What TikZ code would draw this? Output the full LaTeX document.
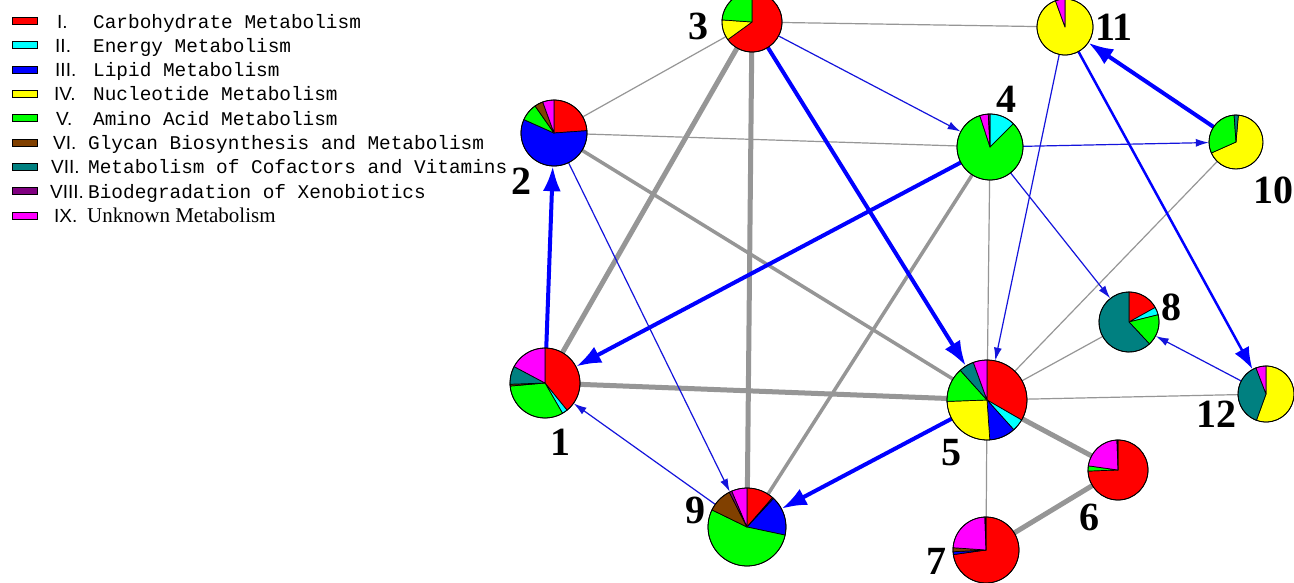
\documentclass[tikz,border=0pt]{standalone}
\usepackage{fontspec}
\setmainfont{Liberation Serif}
\newfontfamily\legmono{Liberation Mono}
\newfontfamily\legsans{Liberation Sans}
\usetikzlibrary{arrows.meta}
\definecolor{cI}{RGB}{255,0,0}
\definecolor{cII}{RGB}{0,255,255}
\definecolor{cIII}{RGB}{0,0,255}
\definecolor{cIV}{RGB}{255,255,0}
\definecolor{cV}{RGB}{0,255,0}
\definecolor{cVI}{RGB}{128,64,0}
\definecolor{cVII}{RGB}{0,128,128}
\definecolor{cVIII}{RGB}{128,0,128}
\definecolor{cIX}{RGB}{255,0,255}
\definecolor{edgegray}{RGB}{150,150,150}
\definecolor{edgeblue}{RGB}{0,0,255}
\definecolor{thinblue}{RGB}{20,20,220}
\newcommand\drawpie[3]{%
  \foreach \sa/\ea/\col in {#3}{%
    \filldraw[fill=\col, draw=black, line width=0.7pt, line join=round]
      (#1.center) -- ++({90-\sa}:#2) arc[start angle={90-\sa}, end angle={90-\ea}, radius=#2] -- cycle;
  }%
  \draw[line width=0.8pt] (#1.center) circle[radius=#2];
}
\tikzset{
  pienode/.style={circle, inner sep=0pt, draw=none},
  lab/.style={font=\fontsize{40}{40}\selectfont\bfseries, anchor=base, inner sep=0pt},
  gthick/.style={draw=edgegray, line width=5pt},
  gmid/.style={draw=edgegray, line width=3.5pt},
  gthin/.style={draw=edgegray, line width=1.2pt},
  bthick/.style={draw=edgeblue, line width=4pt, -{Latex[length=25pt,width=18pt]}},
  bmid/.style={draw=edgeblue, line width=2.5pt, -{Latex[length=22pt,width=16pt]}},
  bthin/.style={draw=thinblue, line width=1.2pt, -{Latex[length=13pt,width=8pt]}},
  swatch/.style={draw=black, line width=0.8pt, minimum width=25pt, minimum height=7pt, inner sep=0pt},
  legnum/.style={font=\legsans\fontsize{19}{19}\selectfont, anchor=base west, inner sep=0pt},
  legtxt/.style={font=\legmono\fontsize{19.4}{20}\selectfont, anchor=base west, inner sep=0pt},
  legser/.style={font=\fontsize{21}{21}\selectfont, anchor=base west, inner sep=0pt},
}
\begin{document}
\begin{tikzpicture}[x=1pt,y=-1pt]
\useasboundingbox[fill=white] (0,0) rectangle (1294,582);
% legend
\foreach \i/\col/\num/\nx/\tx/\txt in {
  1/cI/I./57/93/Carbohydrate Metabolism,
  2/cII/II./55/93/Energy Metabolism,
  3/cIII/III./55/93/Lipid Metabolism,
  4/cIV/IV./54/93/Nucleotide Metabolism,
  5/cV/V./56/93/Amino Acid Metabolism,
  6/cVI/VI./53/88/Glycan Biosynthesis and Metabolism,
  7/cVII/VII./51/88/Metabolism of Cofactors and Vitamins,
  8/cVIII/VIII./50/88/Biodegradation of Xenobiotics}{
  \pgfmathsetmacro\yc{21+24.3*(\i-1)}
  \node[swatch, fill=\col] (sw\i) at (24.5,\yc) {};
  \node[legnum] (ln\i) at (\nx,\yc+7) {\num};
  \node[legtxt] (lt\i) at (\tx,\yc+7) {\txt};
}
\node[swatch, fill=cIX] (sw9) at (24.5,215.4) {};
\node[legnum] (ln9) at (54,222.4) {IX.};
\node[legser] (lt9) at (87,222.4) {Unknown Metabolism};
% pie nodes
\node[pienode, minimum size=70pt] (n1) at (545,383) {};
\node[pienode, minimum size=66pt] (n2) at (554,133) {};
\node[pienode, minimum size=60pt] (n3) at (752,22) {};
\node[pienode, minimum size=66pt] (n4) at (990,147) {};
\node[pienode, minimum size=80pt] (n5) at (987,400) {};
\node[pienode, minimum size=60pt] (n6) at (1118,470) {};
\node[pienode, minimum size=66pt] (n7) at (986,550) {};
\node[pienode, minimum size=60pt] (n8) at (1129,322) {};
\node[pienode, minimum size=78pt] (n9) at (747,527) {};
\node[pienode, minimum size=54pt] (n10) at (1236,142) {};
\node[pienode, minimum size=56pt] (n11) at (1065,27) {};
\node[pienode, minimum size=56pt] (n12) at (1266,394) {};
% gray edges
\draw[gthick] (n3) -- (n1);
\draw[gthick] (n3) -- (n9);
\draw[gthick] (n1) -- (n5);
\draw[gthick] (n5) -- (n6);
\draw[gthick] (n6) -- (n7);
\draw[gmid] (n2) -- (n5);
\draw[gmid] (n4) -- (n9);
\draw[gthin] (n2) -- (n3);
\draw[gthin] (n2) -- (n4);
\draw[gthin] (n3) -- (n11);
\draw[gthin] (n4) -- (n5);
\draw[gthin] (n5) -- (n7);
\draw[gthin] (n5) -- (n8);
\draw[gthin] (n5) -- (n10);
\draw[gthin] (n5) -- (n12);
% blue arrows
\draw[bthick] (n1) -- (n2);
\draw[bthick] (n3) -- (n5);
\draw[bthick] (n4) -- (n1);
\draw[bthick] (n10) -- (n11);
\draw[bthick] (n5) -- (n9);
\draw[bmid] (n11) -- (n12);
\draw[bthin] (n3) -- (n4);
\draw[bthin] (n4) -- (n8);
\draw[bthin] (n4) -- (n10);
\draw[bthin] (n11) -- (n5);
\draw[bthin] (n12) -- (n8);
\draw[bthin] (n9) -- (n1);
\draw[bthin] (n2) -- (n9);
% pies
\drawpie{n1}{35pt}{0/141/cI, 141/150/cII, 150/265/cV, 265/268/cVI, 268/298/cVII, 298/360/cIX}
\drawpie{n2}{33pt}{0/86/cI, 86/294/cIII, 294/325/cV, 325/340/cVI, 340/360/cIX}
\drawpie{n3}{30pt}{0/234/cI, 234/274/cIV, 274/360/cV}
\drawpie{n4}{33pt}{0/45/cII, 45/342/cV, 342/357/cIX, 357/360/cVIII}
\drawpie{n5}{40pt}{0/120/cI, 120/138/cII, 138/176/cIII, 176/268/cIV, 268/318/cV, 318/340/cVII, 340/360/cIX}
\drawpie{n6}{30pt}{0/268/cI, 268/278/cV, 278/358/cIX, 358/360/cVIII}
\drawpie{n7}{33pt}{0/262/cI, 262/267/cIII, 267/274/cVI, 274/358/cIX, 358/360/cVIII}
\drawpie{n8}{30pt}{0/61/cI, 61/76/cII, 76/137/cV, 137/360/cVII}
\drawpie{n9}{39pt}{0/41/cI, 41/43/cVIII, 43/102/cIII, 102/296/cV, 296/333/cVI, 333/337/cVIII, 337/360/cIX}
\drawpie{n10}{27pt}{5/246/cIV, 246/356/cV, 356/365/cVII}
\drawpie{n11}{28pt}{0/340/cIV, 340/360/cIX}
\drawpie{n12}{28pt}{0/200/cIV, 200/339/cVII, 339/360/cIX}
% labels
\node[lab] (l1) at (560,455) {1};
\node[lab] (l2) at (521,194) {2};
\node[lab] (l3) at (698,39) {3};
\node[lab] (l4) at (1006,112) {4};
\node[lab] (l5) at (951,465) {5};
\node[lab] (l6) at (1089,530) {6};
\node[lab] (l7) at (936,574) {7};
\node[lab] (l8) at (1171,320) {8};
\node[lab] (l9) at (695,523) {9};
\node[lab] (l10) at (1273,203) {10};
\node[lab] (l11) at (1114,40) {11};
\node[lab] (l12) at (1216,427) {12};
\end{tikzpicture}
\end{document}
